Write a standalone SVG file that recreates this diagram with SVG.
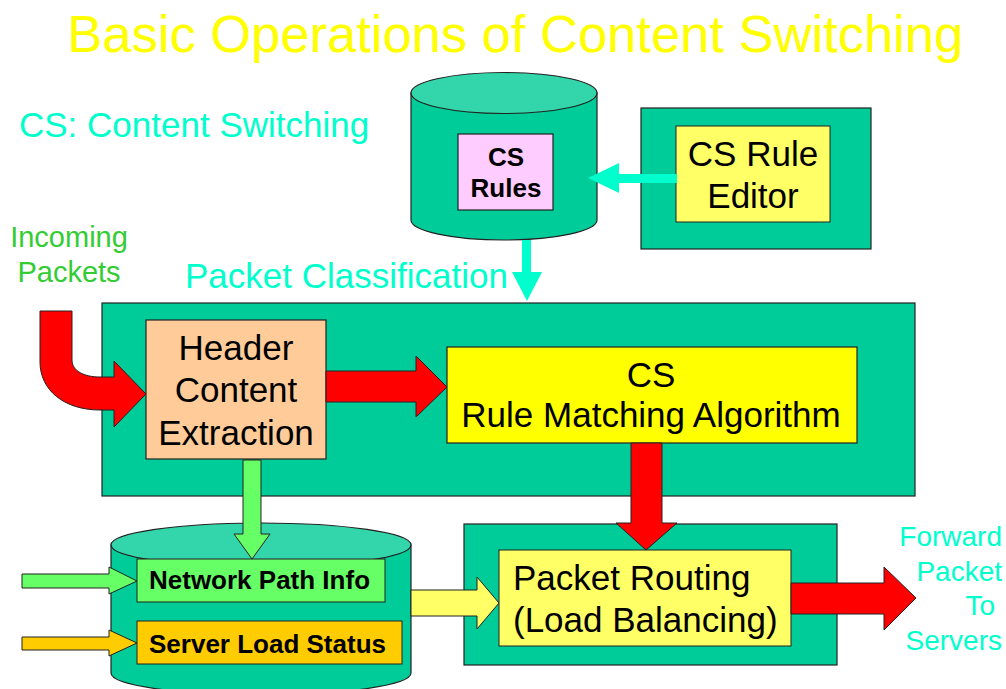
<svg xmlns="http://www.w3.org/2000/svg" width="1006" height="689" viewBox="0 0 1006 689">
<style>
text{font-family:"Liberation Sans",Arial,sans-serif}
.box{fill:#00CC99;stroke:#222;stroke-width:1.2}
.cyl{fill:#00CC99;stroke:#222;stroke-width:1.2}
.cyltop{fill:#33D6AA;stroke:#222;stroke-width:1.2}
.lbl{font-size:35px;fill:#000}
.bold{font-size:26px;font-weight:bold;fill:#000}
.aqua{fill:#00FFCC}
.red{fill:#FF0000;stroke:#222;stroke-width:1}
.ylw{fill:#FFFF66;stroke:#222;stroke-width:1}
.grn{fill:#66FF66;stroke:#222;stroke-width:1}
.org{fill:#FFCC00;stroke:#222;stroke-width:1}
</style>
<rect width="1006" height="689" fill="#fff"/>
<g id="labels">
<text x="67" y="52" font-size="52.5" fill="#FFFF00">Basic Operations of Content Switching</text>
<text x="19" y="137" font-size="35" class="aqua">CS: Content Switching</text>
<text x="69" y="247" font-size="29" fill="#33CC33" text-anchor="middle">Incoming</text>
<text x="69" y="282" font-size="29" fill="#33CC33" text-anchor="middle">Packets</text>
<text x="185" y="288" font-size="35" class="aqua">Packet Classification</text>
<g font-size="28" class="aqua" text-anchor="end">
<text x="1002" y="546">Forward</text>
<text x="1002" y="581">Packet</text>
<text x="995" y="615">To</text>
<text x="1002" y="650">Servers</text>
</g>
</g>
<g id="rules-db">
<path class="cyl" d="M411,93 V220 A93,20 0 0 0 597,220 V93 Z"/>
<ellipse class="cyltop" cx="504" cy="93" rx="93" ry="20.5"/>
<rect x="458" y="134" width="95" height="76" fill="#FFCCFF" stroke="#222" stroke-width="1.2"/>
<text class="bold" x="506" y="166" text-anchor="middle">CS</text>
<text class="bold" x="506" y="197" text-anchor="middle">Rules</text>
</g>
<g id="rule-editor">
<rect class="box" x="641" y="108" width="230" height="141"/>
<rect class="ylw" x="676" y="126" width="154" height="96"/>
<text class="lbl" x="753" y="166" text-anchor="middle">CS Rule</text>
<text class="lbl" x="753" y="208" text-anchor="middle">Editor</text>
</g>
<g id="packet-classification">
<rect class="box" x="102" y="303" width="813" height="193"/>
</g>
<g id="header-extraction">
<rect x="146" y="320" width="180" height="139" fill="#FFCC99" stroke="#222" stroke-width="1.2"/>
<text class="lbl" x="236" y="360" text-anchor="middle">Header</text>
<text class="lbl" x="236" y="402" text-anchor="middle">Content</text>
<text class="lbl" x="236" y="445" text-anchor="middle">Extraction</text>
</g>
<g id="rule-matching">
<rect x="447" y="347" width="410" height="96" fill="#FFFF00" stroke="#222" stroke-width="1.2"/>
<text class="lbl" x="651" y="387" text-anchor="middle">CS</text>
<text class="lbl" x="651" y="427" text-anchor="middle">Rule Matching Algorithm</text>
</g>
<g id="state-db">
<path class="cyl" d="M111,545 V673 A150,22 0 0 0 411,673 V545 Z"/>
<ellipse class="cyltop" cx="261" cy="545" rx="150" ry="22"/>
<g id="network-path-info">
<rect class="grn" x="137" y="559" width="248" height="43"/>
<text class="bold" x="149" y="589">Network Path Info</text>
</g>
<g id="server-load-status">
<rect class="org" x="137" y="621" width="265" height="43"/>
<text class="bold" x="149" y="653">Server Load Status</text>
</g>
</g>
<g id="packet-routing">
<rect class="box" x="464" y="524" width="373" height="141"/>
<rect class="ylw" x="499" y="550" width="292" height="96"/>
<text class="lbl" x="513" y="590">Packet Routing</text>
<text class="lbl" x="513" y="632">(Load Balancing)</text>
</g>
<g id="connectors">
<path class="aqua" d="M677,174 H619 V163 L588,178 L619,193 V183 H677 Z"/>
<path class="aqua" d="M522,240 V272 H512 L527,301 L542,272 H531 V240 Z"/>
<path class="red" d="M40,311 H72 V360 C72,371 84,377 100,377 H114 V361 L146,394 L114,427 V410 H100 C64,410 40,390 40,362 Z"/>
<path class="red" d="M326,371 H416 V356 L447,387 L416,417 V402 H326 Z"/>
<path class="red" d="M631,443 V523 H616 L646,550 L677,523 H662 V443 Z"/>
<path class="red" d="M791,583 H884 V567 L916,598 L884,630 V614 H791 Z"/>
<path class="grn" d="M243,460 V534 H234 L252,559 L270,534 H261 V460 Z"/>
<path class="grn" d="M22,574 H109 V567 L137,581 L109,594 V588 H22 Z"/>
<path class="org" d="M22,637 H109 V630 L137,643 L109,656 V650 H22 Z"/>
<path class="ylw" d="M411,590 H477 V577 L499,603 L477,629 V616 H411 Z"/>
</g>
</svg>
